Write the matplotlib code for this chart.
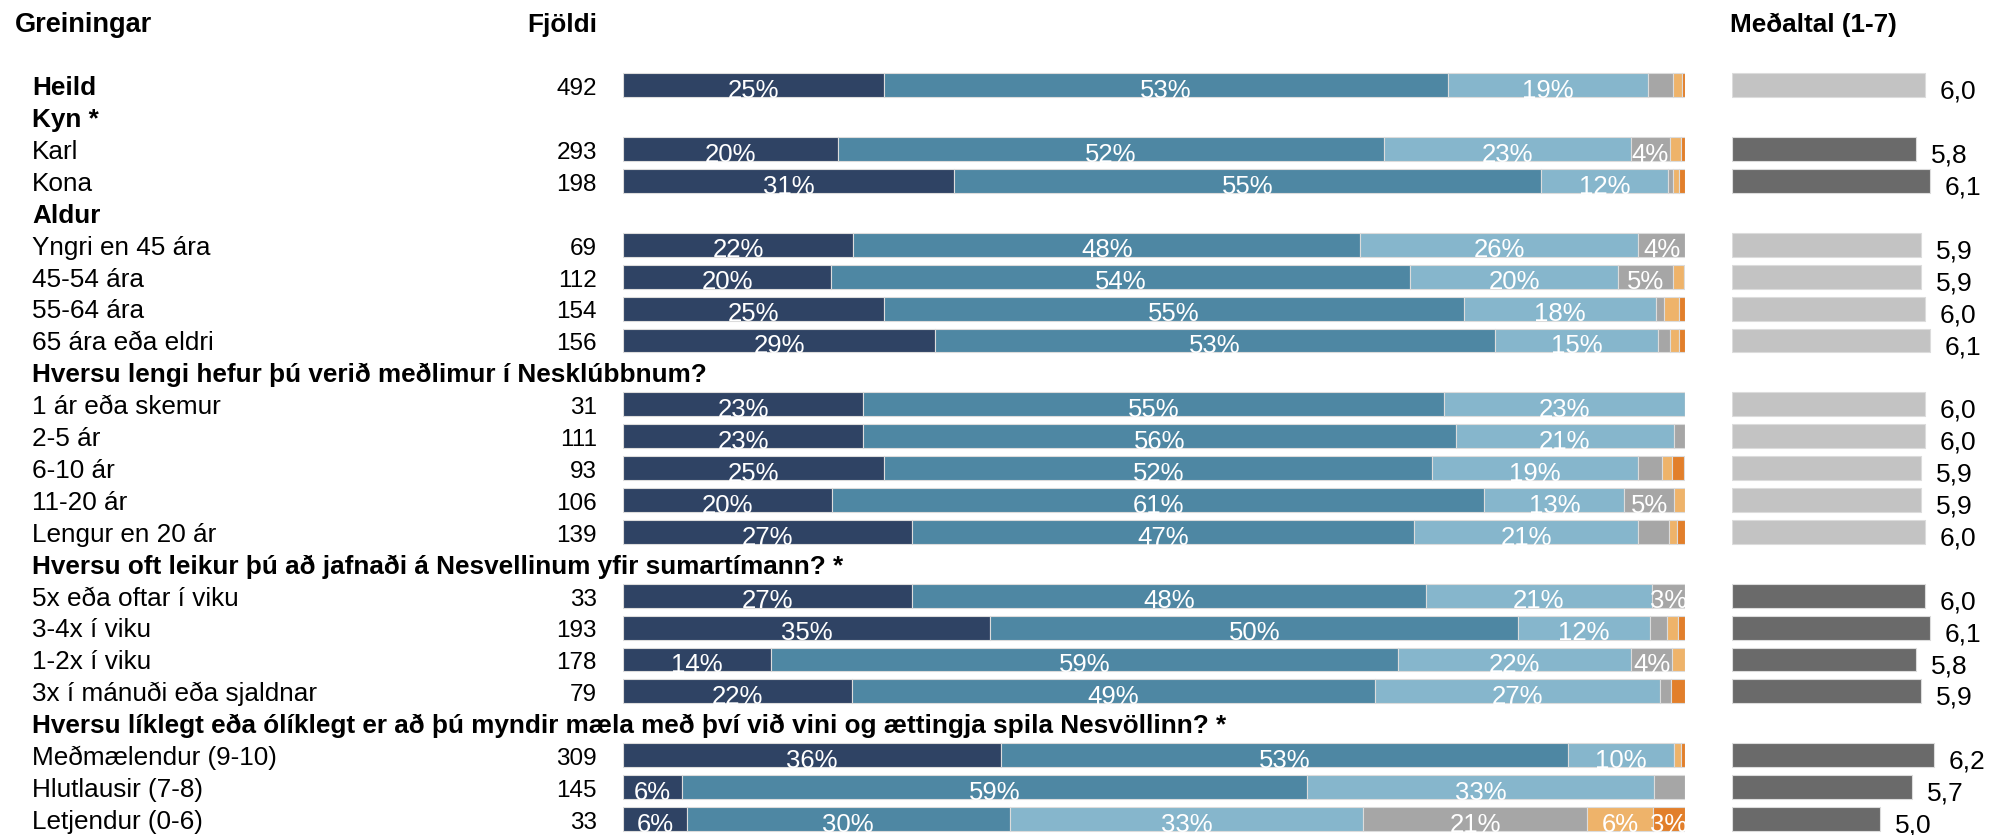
import numpy as np
import matplotlib
matplotlib.use("Agg")
import matplotlib.pyplot as plt

# Data
rows = ["Heild", "Kyn *", "Karl", "Kona", "Aldur", "Yngri en 45 ára", "45-54 ára",
        "55-64 ára", "65 ára eða eldri",
        "Hversu lengi hefur þú verið meðlimur í Nesklúbbnum?",
        "1 ár eða skemur", "2-5 ár", "6-10 ár", "11-20 ár", "Lengur en 20 ár",
        "Hversu oft leikur þú að jafnaði á Nesvellinum yfir sumartímann? *",
        "5x eða oftar í viku", "3-4x í viku", "1-2x í viku", "3x í mánuði eða sjaldnar",
        "Hversu líklegt eða ólíklegt er að þú myndir mæla með því við vini og ættingja spila Nesvöllinn? *",
        "Meðmælendur (9-10)", "Hlutlausir (7-8)", "Letjendur (0-6)"]
is_header = [False, True, False, False, True, False, False, False, False, True,
             False, False, False, False, False, True, False, False, False, False,
             True, False, False, False]
significant = [False, True, True, True, False, False, False, False, False, False,
               False, False, False, False, False, True, True, True, True, True,
               True, True, True, True]
fjoldi = [492, None, 293, 198, None, 69, 112, 154, 156, None, 31, 111, 93, 106, 139,
          None, 33, 193, 178, 79, None, 309, 145, 33]

# answer shares (%), 7 = highest
s7 = [24.6, 0, 20.2, 31.2, 0, 21.7, 19.6, 24.6, 29.4, 0, 22.6, 22.6, 24.6, 19.7, 27.2,
      0, 27.2, 34.6, 13.9, 21.6, 0, 35.6, 5.6, 6.0]
s6 = [53.1, 0, 51.5, 55.2, 0, 47.7, 54.5, 54.6, 52.7, 0, 54.7, 55.8, 51.6, 61.4, 47.3,
      0, 48.4, 49.7, 59.1, 49.2, 0, 53.4, 58.8, 30.4]
s5 = [18.8, 0, 23.2, 12.0, 0, 26.2, 19.6, 18.1, 15.4, 0, 22.7, 20.6, 19.4, 13.2, 21.1,
      0, 21.3, 12.4, 21.9, 26.8, 0, 10.0, 32.7, 33.3]
s4 = [2.4, 0, 3.7, 0.5, 0, 4.4, 5.2, 0.7, 1.1, 0, 0, 1.0, 2.2, 4.7, 2.9,
      0, 3.1, 1.6, 3.9, 1.1, 0, 0, 2.9, 21.1]
s3 = [0.8, 0, 1.0, 0.5, 0, 0, 1.0, 1.4, 0.8, 0, 0, 0, 1.0, 1.0, 0.7,
      0, 0, 1.0, 1.2, 0, 0, 0.6, 0, 6.2]
s2 = [0.3, 0, 0.4, 0.6, 0, 0, 0, 0.6, 0.6, 0, 0, 0, 1.1, 0, 0.8,
      0, 0, 0.7, 0, 1.3, 0, 0.4, 0, 3.0]

medaltal = [6.0, None, 5.8, 6.1, None, 5.9, 5.9, 6.0, 6.1, None, 6.0, 6.0, 5.9, 5.9, 6.0,
            None, 6.0, 6.1, 5.8, 5.9, None, 6.2, 5.7, 5.0]

seg_colors = ["#2F4364", "#4E87A3", "#86B6CC", "#A6A6A6", "#EEB36A", "#E27F2B"]
mean_light = "#C3C3C3"
mean_dark = "#6A6A6A"

font = "Liberation Sans"
label_size = 18.8

W, H = 1990, 835
fig = plt.figure(figsize=(W / 100, H / 100), dpi=100)
row0, step = 85.3, 31.9
ylim = ((H - row0) / step, -row0 / step)
n = len(rows)
y = np.arange(n)
bh = 0.75

# layout axes in pixel x
ax_lab = fig.add_axes([0, 0, 1, 1])
ax_lab.set_xlim(0, W)
ax_lab.set_ylim(*ylim)
ax_lab.axis("off")

ax = fig.add_axes([623 / W, 0, 1062 / W, 1])
ax.set_xlim(0, 100)
ax.set_ylim(*ylim)
ax.axis("off")

mean_min = 1.71
ax_m = fig.add_axes([1732 / W, 0, (W - 1732) / W, 1])
ax_m.set_xlim(mean_min, mean_min + (W - 1732) / 45)
ax_m.set_ylim(*ylim)
ax_m.axis("off")

hy = -1.67
ax_lab.text(15, hy, "Greiningar", fontsize=19.5, fontweight="bold",
            family=font, va="baseline")
ax_lab.text(597, hy, "Fjöldi", fontsize=label_size, fontweight="bold",
            family=font, va="baseline", ha="right")
ax_lab.text(1730, hy, "Meðaltal (1-7)", fontsize=18.8, fontweight="bold",
            family=font, va="baseline")

for i in range(n):
    bold = is_header[i] or i == 0
    ax_lab.text(32, i + 0.31, rows[i], fontsize=label_size, family=font,
                fontweight="bold" if bold else "normal", va="baseline")
    if fjoldi[i] is not None:
        ax_lab.text(597, i + 0.31, str(fjoldi[i]), fontsize=17.5, family=font,
                    va="baseline", ha="right")

segs = [s7, s6, s5, s4, s3, s2]
left = np.zeros(n)
mask = np.array([not h for h in is_header])
for vals, col in zip(segs, seg_colors):
    vals = np.array(vals, dtype=float)
    ax.barh(y[mask], vals[mask], left=left[mask], height=bh, color=col,
            edgecolor="#DCDCDC", linewidth=0.8)
    for i in range(n):
        if mask[i] and vals[i] >= 3.0:
            ax.text(left[i] + vals[i] / 2, i + bh / 2 + 0.02, f"{round(vals[i])}%",
                    ha="center", va="baseline", color="white", fontsize=18.5,
                    family=font, clip_on=False)
    left += vals

for i in range(n):
    if medaltal[i] is None:
        continue
    col = mean_dark if significant[i] else mean_light
    ax_m.barh(i, medaltal[i] - mean_min, left=mean_min, height=bh, color=col,
              edgecolor="#DCDCDC", linewidth=0.8)
    ax_m.annotate(f"{medaltal[i]:.1f}".replace(".", ","), (medaltal[i], i + bh / 2 + 0.05),
                  xytext=(15, 0), textcoords="offset pixels", ha="left", va="baseline",
                  fontsize=19, family=font)

fig.savefig("out.png", dpi=100)
